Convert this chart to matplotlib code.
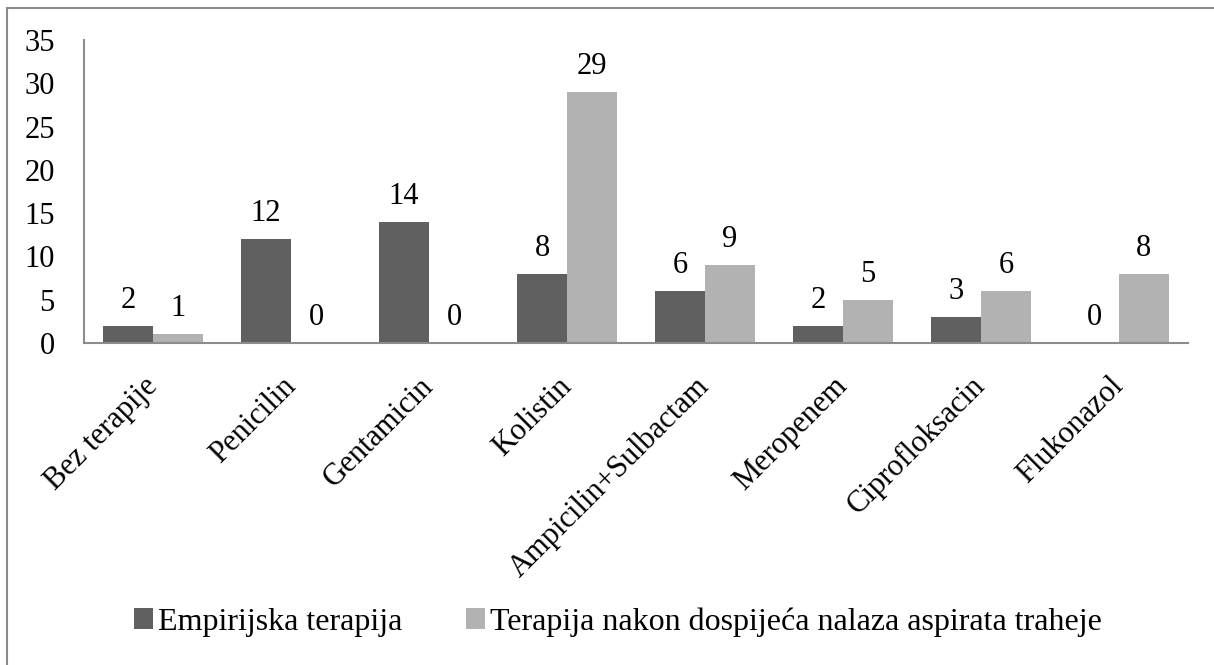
import numpy as np
import matplotlib.pyplot as plt
from matplotlib.patches import Rectangle

plt.rcParams['font.family'] = ['Liberation Serif', 'DejaVu Serif']

categories = ['Bez terapije', 'Penicilin', 'Gentamicin', 'Kolistin',
              'Ampicilin+Sulbactam', 'Meropenem', 'Ciprofloksacin', 'Flukonazol']
empirijska = [2, 12, 14, 8, 6, 2, 3, 0]
nakon_nalaza = [1, 0, 0, 29, 9, 5, 6, 8]
series_names = ['Empirijska terapija', 'Terapija nakon dospijeća nalaza aspirata traheje']
y_ticks = [0, 5, 10, 15, 20, 25, 30, 35]

dark = '#606060'
light = '#b2b2b2'
axis_col = '#8c8c8c'
fs = 22

fig = plt.figure(figsize=(12.14, 6.65), dpi=100)
ax = fig.add_axes([84 / 1214, 1 - 343 / 665, (1188 - 84) / 1214, (343 - 40) / 665])

# outer frame (only left and top visible in the reference)
fig.patches.append(Rectangle((7 / 1214, -0.1), 1.2, 1 - 8 / 665 + 0.1,
                             transform=fig.transFigure, fill=False,
                             edgecolor='#8c8c8c', linewidth=1.5))

x = np.arange(len(categories))
w = 0.362
b1 = ax.bar(x - w / 2, empirijska, w, color=dark, label=series_names[0])
b2 = ax.bar(x + w / 2, nakon_nalaza, w, color=light, label=series_names[1])

for bars, vals in ((b1, empirijska), (b2, nakon_nalaza)):
    for r, v in zip(bars, vals):
        ax.annotate(str(v), (r.get_x() + r.get_width() / 2, v),
                    xytext=(0, 13), textcoords='offset points',
                    ha='center', va='baseline', fontsize=fs)

ax.set_xlim(-0.5, len(categories) - 0.5)
ax.set_ylim(0, 35)
ax.set_yticks(y_ticks)
ax.set_xticks(x)
ax.set_xticklabels(categories, rotation=45, ha='right', va='center',
                   rotation_mode='anchor', fontsize=fs)
ax.tick_params(axis='y', length=0, pad=21, labelsize=fs)
ax.tick_params(axis='x', length=0, pad=28)

for s in ('top', 'right'):
    ax.spines[s].set_visible(False)
for s in ('left', 'bottom'):
    ax.spines[s].set_color(axis_col)
    ax.spines[s].set_linewidth(1.5)

fig.legend(handles=[b1, b2], labels=series_names, loc='center',
           bbox_to_anchor=(618 / 1214, 1 - 622 / 665), ncol=2, frameon=False,
           fontsize=23, handlelength=0.6, handleheight=0.6, handletextpad=0.15,
           columnspacing=2.0)

plt.savefig('out.png', dpi=100)
